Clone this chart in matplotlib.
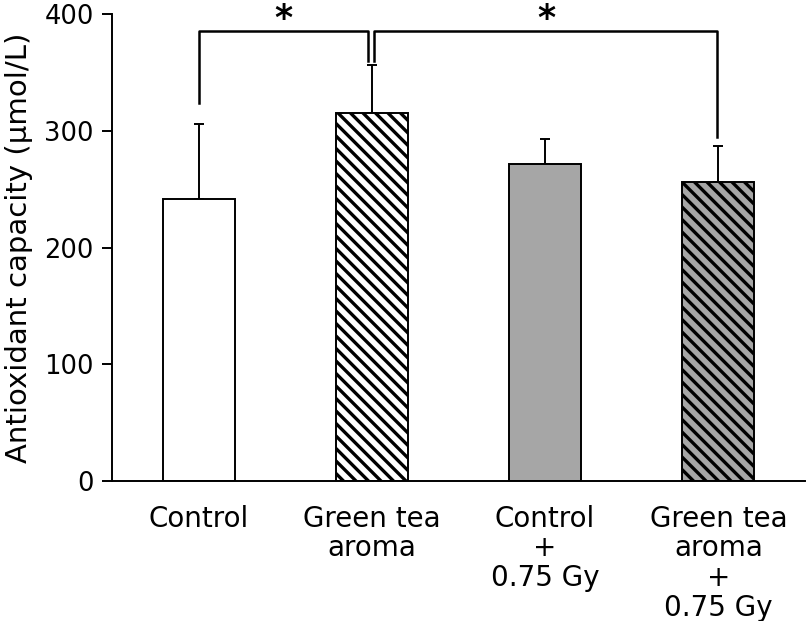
import numpy as np
import matplotlib
matplotlib.use("Agg")
import matplotlib.pyplot as plt
from matplotlib.backend_bases import GraphicsContextBase
from matplotlib.path import Path

# Данные
groups = ["Control", "Green tea\naroma", "Control\n+\n0.75 Gy", "Green tea\naroma\n+\n0.75 Gy"]
means = [241.5, 315.5, 271.5, 256.0]
errors = [64.5, 41.0, 22.0, 31.0]
colors = ["white", "white", "#a6a6a6", "#a6a6a6"]
hatches = ["", "\\", "", "\\"]

# Скобки значимости: (x левой ножки, низ левой, x правой ножки, низ правой)
brackets = [(0, 324, 0.975, 360), (1.015, 360, 2.995, 295)]
bracket_top = 386
star_y = 396


# Штриховка гуще стандартной (плотность 16 вместо 6)
def hatch_path(self, density=16.0):
    hatch = self.get_hatch()
    if hatch is None:
        return None
    return Path.hatch(hatch, density)


GraphicsContextBase.get_hatch_path = hatch_path

plt.rcParams['font.family'] = 'DejaVu Sans'
plt.rcParams['hatch.linewidth'] = 2.4

fig = plt.figure(figsize=(8.09, 6.21), dpi=100)
ax = fig.add_axes([0.1384, 0.2254, 0.8566, 0.7516])

x = np.arange(len(groups))
for i in range(len(groups)):
    ax.bar(x[i], means[i], width=0.415, color=colors[i], edgecolor='black',
           linewidth=1.4, hatch=hatches[i], zorder=2)
ax.errorbar(x, means, yerr=[np.zeros(len(errors)), errors], fmt='none',
            ecolor='black', elinewidth=1.4, capsize=3.5, capthick=1.4, zorder=1)

# Скобки и звездочки
for x1, y1, x2, y2 in brackets:
    ax.plot([x1, x1, x2, x2], [y1, bracket_top, bracket_top, y2],
            color='black', linewidth=1.8, clip_on=False)
    ax.text((x1 + x2) / 2, star_y, '*', ha='center', va='center',
            fontsize=25, fontweight='bold', clip_on=False)

ax.set_xlim(-0.5, 3.5)
ax.set_ylim(0, 400)
ax.set_yticks([0, 100, 200, 300, 400])
ax.set_xticks(x)
ax.set_xticklabels(groups, fontsize=20, linespacing=1.08)
ax.tick_params(axis='x', length=0, pad=17)
ax.tick_params(axis='y', labelsize=18.5, length=7, width=1.4, direction='out', pad=6)
ax.set_ylabel('Antioxidant capacity (μmol/L)', fontsize=21, labelpad=8)

ax.spines['top'].set_visible(False)
ax.spines['right'].set_visible(False)
ax.spines['left'].set_linewidth(1.4)
ax.spines['bottom'].set_linewidth(1.4)

fig.savefig('out.png', dpi=100)
